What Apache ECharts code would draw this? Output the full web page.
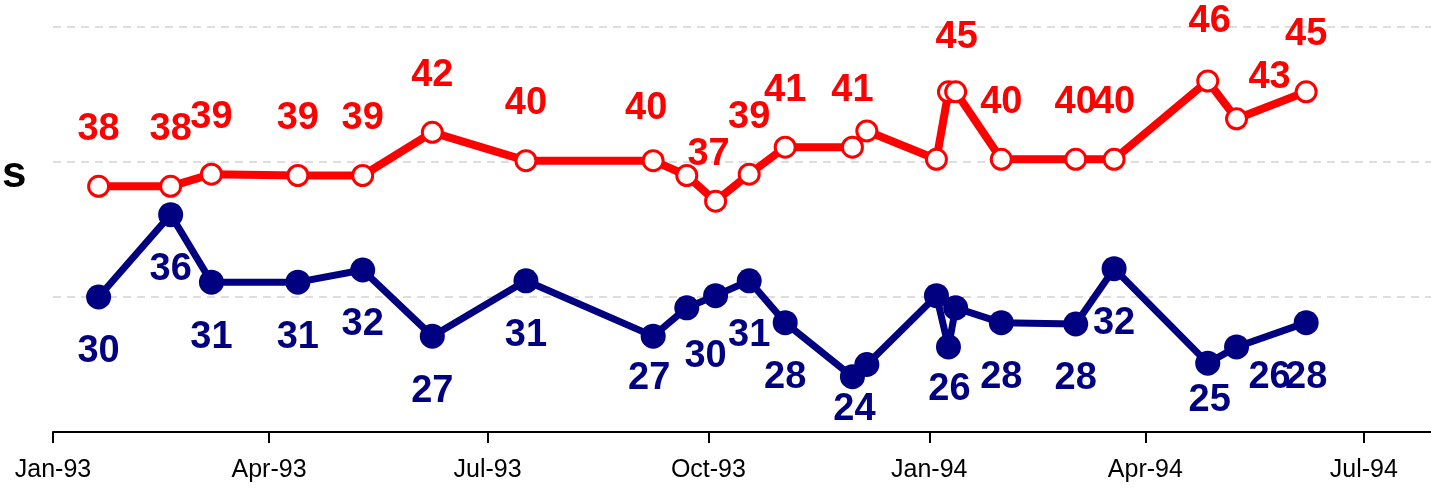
<!DOCTYPE html>
<html>
<head>
<meta charset="utf-8">
<script src="https://cdn.jsdelivr.net/npm/echarts@6/dist/echarts.min.js"></script>
<style>
  html, body { margin: 0; padding: 0; background: #fff; }
  #chart { width: 1431px; height: 488px; }
</style>
</head>
<body>
<div id="chart"></div>
<script>
// survey dates (shared by both series)
const dates = [
  "1993-01-20", "1993-02-19", "1993-03-08", "1993-04-13", "1993-05-10",
  "1993-06-08", "1993-07-17", "1993-09-08", "1993-09-22", "1993-10-04",
  "1993-10-18", "1993-11-02", "1993-11-30", "1993-12-06", "1994-01-04",
  "1994-01-09", "1994-01-12", "1994-01-31", "1994-03-03", "1994-03-19",
  "1994-04-27", "1994-05-09", "1994-06-07"
];
const redValues = [
  38.2, 38.2, 39.1, 39.0, 39.0, 42.2, 40.1, 40.1, 39.0, 37.1, 39.1, 41.1,
  41.1, 42.3, 40.2, 45.2, 45.2, 40.2, 40.2, 40.2, 46.0, 43.2, 45.2
];
const navyValues = [
  30.0, 36.1, 31.1, 31.1, 32.0, 27.1, 31.2, 27.1, 29.2, 30.1, 31.2, 28.1,
  24.1, 25.0, 30.1, 26.3, 29.2, 28.1, 28.0, 32.1, 25.1, 26.3, 28.1
];
// printed labels (null = no label on that point)
const redLabels = [
  38, 38, 39, 39, 39, 42, 40, 40, null, 37, 39, 41,
  41, null, null, null, 45, 40, 40, 40, 46, 43, 45
];
const navyLabels = [
  30, 36, 31, 31, 32, 27, 31, 27, null, 30, 31, 28,
  24, null, null, 26, null, 28, 28, 32, 25, 26, 28
];
const tickDates = ["1993-01-01", "1993-04-01", "1993-07-01", "1993-10-01", "1994-01-01", "1994-04-01", "1994-07-01"];
const tickLabels = ["Jan-93", "Apr-93", "Jul-93", "Oct-93", "Jan-94", "Apr-94", "Jul-94"];

const RED = "#FF0000";
const NAVY = "#000080";
const labelFont = "Liberation Sans, Arial, sans-serif";

// label nudges where the original moved labels off the default spot
const redNudge = { 7: [-7, -52], 9: [-7, -47], 16: [1, -54], 20: [2, -59], 21: [33, -41] };
const navyNudge = { 7: [-4, 42], 9: [-10, 61], 12: [2, 33], 15: [1, 43], 20: [2, 37], 21: [33, 31] };

const toTime = (s) => {
  const p = s.split("-").map(Number);
  return Date.UTC(p[0], p[1] - 1, p[2]);
};
const tickTimes = tickDates.map(toTime);

const buildData = (values, labels, nudge, dy, color) =>
  values.map((v, i) => ({
    value: [toTime(dates[i]), v],
    label: {
      show: labels[i] !== null,
      formatter: String(labels[i]),
      position: "inside",
      offset: nudge[i] || [0, dy],
      color: color,
      fontFamily: labelFont,
      fontWeight: "bold",
      fontSize: 38,
    },
  }));

const chart = echarts.init(document.getElementById("chart"), null, { renderer: "canvas" });

const option = {
  animation: false,
  grid: { left: 53, right: 0, top: 27, bottom: 56, outerBoundsMode: "none" },
  xAxis: {
    type: "value",
    min: toTime("1993-01-01"),
    max: toTime("1994-07-29"),
    axisLine: { show: true, lineStyle: { color: "#000", width: 2 } },
    axisTick: {
      show: true,
      customValues: tickTimes,
      length: 11,
      lineStyle: { color: "#000", width: 2 },
    },
    axisLabel: {
      customValues: tickTimes,
      margin: 26,
      color: "#000",
      fontFamily: labelFont,
      fontSize: 25,
      formatter: (val) => tickLabels[tickTimes.indexOf(val)] || "",
    },
    splitLine: { show: false },
  },
  yAxis: {
    type: "value",
    min: 20,
    max: 50,
    interval: 10,
    axisLine: { show: false },
    axisTick: { show: false },
    axisLabel: { show: false },
    splitLine: { lineStyle: { color: "#d4d4d4", width: 1.5, type: [8, 6] } },
  },
  graphic: [
    {
      type: "text",
      x: 2,
      y: 175,
      style: {
        text: "s",
        fill: "#000",
        font: "bold 44px " + labelFont,
        verticalAlign: "middle",
      },
    },
  ],
  series: [
    {
      type: "line",
      data: buildData(redValues, redLabels, redNudge, -57, RED),
      lineStyle: { color: RED, width: 8 },
      symbol: "circle",
      symbolSize: 20,
      showAllSymbol: true,
      itemStyle: { color: "#fff", borderColor: RED, borderWidth: 3 },
      emphasis: { disabled: true },
      z: 3,
    },
    {
      type: "line",
      data: buildData(navyValues, navyLabels, navyNudge, 55, NAVY),
      lineStyle: { color: NAVY, width: 7 },
      symbol: "circle",
      symbolSize: 25,
      showAllSymbol: true,
      itemStyle: { color: NAVY },
      emphasis: { disabled: true },
      z: 2,
    },
  ],
};
chart.setOption(option);
</script>
</body>
</html>
